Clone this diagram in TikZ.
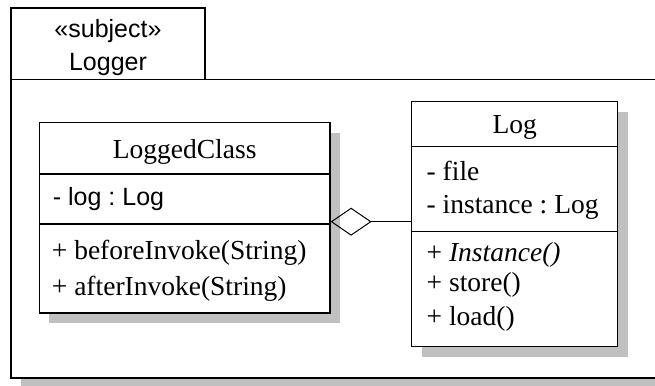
\documentclass[tikz,border=0pt]{standalone}
\usepackage{fontspec}
\setmainfont{Liberation Serif}
\setsansfont{Liberation Sans}
\usetikzlibrary{arrows.meta}
\definecolor{shadowgray}{RGB}{192,192,192}
\frenchspacing
\begin{document}
\begin{tikzpicture}[x=1pt,y=-1pt,
  outline/.style={draw=black,line width=1.2pt},
  shadowbox/.style={fill=shadowgray,draw=none,rectangle,inner sep=0pt},
  classbox/.style={outline,fill=white,rectangle,inner sep=0pt},
  serif/.style={font=\fontsize{27.5}{30}\selectfont,inner sep=0pt},
  sans/.style={font=\sffamily\fontsize{25}{28}\selectfont,inner sep=0pt},
  aggregation/.style={draw=black,line width=1pt,
    -{Diamond[open,length=41pt,width=28pt,line width=1pt]}}]
\useasboundingbox (0,0) rectangle (655,385);
\clip (0,0) rectangle (655,385);

% package frame with its name tab
\node[shadowbox,minimum width=700,minimum height=298.5] at (371,238.75) {};
\node[classbox,minimum width=194,minimum height=71.5] (tab) at (108,43.75) {};
\node[classbox,minimum width=700,minimum height=298.5] (frame) at (361,228.75) {};
\node[sans,anchor=base] (stereo) at (108,38) {«subject»};
\node[sans,anchor=base] (pkgname) at (108,71) {Logger};

% class LoggedClass
\node[shadowbox,minimum width=290.7,minimum height=190.3] at (194.65,227.85) {};
\node[classbox,minimum width=290.7,minimum height=190.3] (lc) at (184.65,217.85) {};
\draw[outline] (lc.west |- 0,174) -- (lc.east |- 0,174);
\draw[outline] (lc.west |- 0,224) -- (lc.east |- 0,224);
\node[serif,anchor=base] (lcname) at (184.65,158.3) {LoggedClass};
\node[sans,anchor=base west] (lcattr) at (52.7,205) {- log : Log};
\node[serif,anchor=base west] (lcop1) at (51.7,259.3) {+ beforeInvoke(String)};
\node[serif,anchor=base west] (lcop2) at (51.7,295) {+ afterInvoke(String)};

% class Log
\node[shadowbox,minimum width=206,minimum height=245] at (524.7,234.2) {};
\node[classbox,minimum width=206,minimum height=245] (log) at (514.7,224.2) {};
\draw[outline] (log.west |- 0,146.7) -- (log.east |- 0,146.7);
\draw[outline] (log.west |- 0,231.7) -- (log.east |- 0,231.7);
\node[serif,anchor=base] (logname) at (514.7,133.3) {Log};
\node[serif,anchor=base west] (logattr1) at (426.5,180.7) {- file};
\node[serif,anchor=base west] (logattr2) at (426.5,213.3) {- instance : Log};
\node[serif,anchor=base west] (logop1) at (426.5,261.7) {+ \textit{Instance()}};
\node[serif,anchor=base west] (logop2) at (426.5,291.7) {+ store()};
\node[serif,anchor=base west] (logop3) at (426.5,325) {+ load()};

% aggregation: LoggedClass holds a Log
\coordinate (aggy) at (0,221.7);
\draw[aggregation] (log.west |- aggy) -- (lc.east |- aggy);
\end{tikzpicture}
\end{document}
